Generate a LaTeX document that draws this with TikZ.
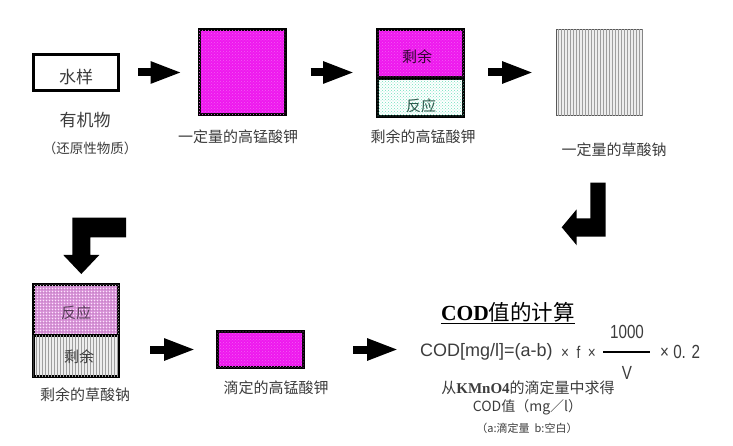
\documentclass[tikz,border=0pt]{standalone}
\usepackage{fontspec}
\setmainfont{Liberation Sans}
\newfontfamily\cjk{Noto Sans CJK SC}
\newfontfamily\titlefont{Liberation Serif}
\newfontfamily\narrowfont[FakeStretch=0.8]{Liberation Sans}
\usetikzlibrary{arrows.meta,patterns}

\definecolor{kmno}{RGB}{238,24,238}
\definecolor{mint}{RGB}{110,225,190}
\definecolor{lilac}{RGB}{222,150,222}
\definecolor{txt}{RGB}{60,60,60}

\tikzset{
	label/.style={text=txt, font=\fontsize{15}{17}\cjk, inner sep=0pt},
	formulatext/.style={text=txt, inner sep=0pt, font=\fontsize{19}{21}\narrowfont},
	box/.style={draw=black, line width=3pt, inner sep=0pt},
	magentabox/.style={box, fill=kmno, postaction={pattern=crosshatch dots, pattern color=kmno!70!white}},
	linefill/.style={fill=black!7, postaction={pattern=vertical lines, pattern color=black!38}},
	blockarrow/.style={draw=black, line width=8pt, -{Triangle[length=32pt,width=20pt]}, shorten >=-3pt},
	elbow/.style={fill=black},
}

\begin{document}
\begin{tikzpicture}[x=1pt, y=-1pt]
	\useasboundingbox (0,0) rectangle (733,446);

	% Top row
	\node[box, minimum width=85pt, minimum height=36pt] (sample) at (76,72.5) {};
	\node[magentabox, minimum width=86pt, minimum height=85pt] (permanganate) at (242,72.5) {};
	\node[box, fill=white, postaction={pattern=crosshatch dots, pattern color=mint}, minimum width=86pt, minimum height=38pt] (reacted) at (420.5,98) {};
	\node[magentabox, minimum width=86pt, minimum height=48pt] (left) at (420.5,54) {};
	\node[linefill, draw=black!65, line width=1pt, inner sep=0pt, minimum width=86pt, minimum height=86pt] (oxalate) at (599.5,72.5) {};

	\node[label, font=\fontsize{17}{19}\cjk] (samplet) at (76,77) {水样};
	\node[label, font=\fontsize{17}{19}\cjk] (organic) at (85,120) {有机物};
	\node[label, font=\fontsize{13.5}{15}\cjk] (reducing) at (90,148) {（还原性物质）};
	\node[label] (permanganatet) at (238,137) {一定量的高锰酸钾};
	\node[label, text=black!80!kmno] (leftt) at (417,57) {剩余};
	\node[label, text=black!60!mint] (reactedt) at (421,106) {反应};
	\node[label] (leftcap) at (423,137) {剩余的高锰酸钾};
	\node[label] (oxalatet) at (614,150) {一定量的草酸钠};

	% Arrows
	\draw[blockarrow] ([xshift=18pt]sample.east) -- ([xshift=-18pt]permanganate.west);
	\draw[blockarrow] ([xshift=24pt]permanganate.east) -- ([xshift=-24pt]permanganate.east -| left.west);
	\draw[blockarrow] ([xshift=23pt]permanganate.east -| left.east) -- ([xshift=-25pt]oxalate.west);

	% Elbow arrows
	\fill[elbow] (590.3,182.7) -- (605.7,182.7) -- (605.7,236.7) -- (576.7,236.7) -- (576.7,245.3) -- (561.7,227.3) -- (576.7,209.3) -- (576.7,218.3) -- (590.3,218.3) -- cycle;
	\fill[elbow] (72.3,217.7) -- (126,217.7) -- (126,237.3) -- (90.3,237.3) -- (90.3,255) -- (99.3,255) -- (81.3,274) -- (63.3,255) -- (72.3,255) -- cycle;

	% Bottom row
	\node[box, fill=lilac, postaction={pattern=crosshatch dots, pattern color=white}, postaction={pattern=dots, pattern color=black!60!kmno}, minimum width=85pt, minimum height=51pt] (reacted2) at (76,310) {};
	\node[box, linefill, minimum width=85pt, minimum height=41pt] (left2) at (76,355.5) {};
	\node[magentabox, minimum width=86pt, minimum height=36pt] (titrant) at (260.5,349.5) {};

	\node[label, text=black!60!lilac] (reacted2t) at (76,313) {反应};
	\node[label, text=black!75] (left2t) at (79,357) {剩余};
	\node[label] (left2cap) at (85,395) {剩余的草酸钠};
	\node[label] (titrantt) at (276,388) {滴定的高锰酸钾};

	\draw[blockarrow] ([xshift=30pt]left2.east |- titrant.west) -- ([xshift=-23pt]titrant.west);
	\draw[blockarrow] ([xshift=48pt]titrant.east) -- ([xshift=91pt]titrant.east);

	% Formula
	\node[inner sep=0pt, text=black, font=\fontsize{21.5}{23}\cjk] (title) at (508,312) {{\titlefont\bfseries COD}值的计算};
	\draw[line width=1.2pt] ([yshift=-1pt]title.south west) -- ([yshift=-1pt]title.south east);
	\node[anchor=west, formulatext, font=\fontsize{18}{20}\selectfont] (formula) at (420,352) {COD[mg/l]=(a-b)};
	\node[anchor=east, formulatext, font=\fontsize{17}{19}\narrowfont] (times) at (596,352) {×\ \ f\ \ ×};
	\node[formulatext] (num) at (627,332) {1000};
	\node[formulatext] (den) at (627,373) {V};
	\draw[line width=2pt] (603,352) -- (650,352);
	\node[anchor=west, formulatext] (factor) at (660,352) {× 0. 2};

	\node[label] (note1) at (528,388) {从{\titlefont\bfseries KMnO4}的滴定量中求得};
	\node[label, font=\fontsize{14}{16}\cjk] (note2) at (527.5,407) {COD值（mg／l）};
	\node[label, font=\fontsize{11}{13}\cjk] (note3) at (527,428) {（a:滴定量\ \ b:空白）};
\end{tikzpicture}
\end{document}
